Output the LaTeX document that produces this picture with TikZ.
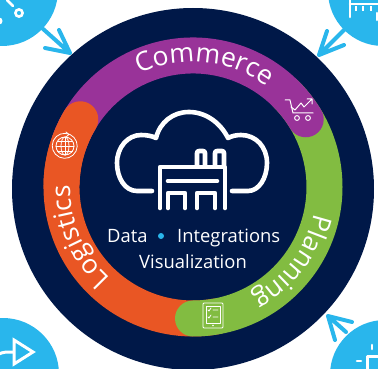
\documentclass[tikz,border=0pt]{standalone}
\usepackage{fontspec}
\usetikzlibrary{decorations.text}
\setmainfont{Open Sans}
\definecolor{navy}{HTML}{001848}
\definecolor{ringpurple}{HTML}{993399}
\definecolor{ringgreen}{HTML}{82BC41}
\definecolor{ringorange}{HTML}{E95624}
\definecolor{skyc}{HTML}{29B6EC}
\newcommand\ringtxt{\fontsize{26.5}{26.5}\selectfont\color{white}}
\tikzset{
  band/.style={line width=36pt,line cap=round},
  corner/.style={fill=skyc},
  pointer/.style={draw=skyc,line width=4pt,line cap=round,line join=round},
  heavy/.style={draw=white,line width=4.6pt,line cap=round,line join=round},
  mark2/.style={draw=white,line width=2.6pt,line cap=round,line join=round},
  fine/.style={draw=white,line width=0.8pt,line cap=round,line join=round},
  centre/.style={text=white,font=\fontsize{18.4}{18.4}\selectfont,inner sep=0pt},
}
\begin{document}
\begin{tikzpicture}[x=1pt,y=-1pt]
\useasboundingbox (0,0) rectangle (378,369);
\fill[white] (0,0) rectangle (378,369);
% corner discs
\fill[corner] (2,-10) circle[radius=56pt];
\fill[corner] (383,-9) circle[radius=55pt];
\fill[corner] (3,374) circle[radius=56pt];
\fill[corner] (385,375) circle[radius=55pt];
% pointers
\coordinate (tla) at (42,28); \coordinate (tlb) at (70,53);
\draw[pointer] (tla) -- (tlb) (59,30) -- (tlb) -- (45,48);
\coordinate (tra) at (346,28); \coordinate (trb) at (319,55);
\draw[pointer] (tra) -- (trb) (327,31) -- (trb) -- (344,45);
\coordinate (bra) at (346,332); \coordinate (brb) at (328,316);
\draw[pointer] (bra) -- (brb) (352,322) -- (brb) -- (335,340);
% main disc
\fill[navy] (193,189) circle[radius=181pt];
% ring
\coordinate (c) at (193,187);
\draw[band,ringorange] (c) ++(149:131.5pt) arc[start angle=149,end angle=280,radius=131.5pt];
\draw[band,ringgreen] (c) ++(270:131.5pt) arc[start angle=270,end angle=405,radius=131.5pt];
\draw[band,ringpurple] (c) ++(160:131.5pt) arc[start angle=160,end angle=31,radius=131.5pt];
\draw[band,ringorange] (c) ++(149:131.5pt) arc[start angle=149,end angle=178,radius=131.5pt];
% curved labels
\path[decorate,decoration={text along path,text align=center,text={|\ringtxt|Commerce}}]
  (c) ++(130:125pt) arc[start angle=130,end angle=39,radius=125pt];
\path[decorate,decoration={text along path,text align=center,text={|\ringtxt|Logistics}}]
  (c) ++(250:123pt) arc[start angle=250,end angle=157,radius=123pt];
\path[decorate,decoration={text along path,text align=center,text={|\ringtxt|Planning}}]
  (c) ++(13:124pt) arc[start angle=13,end angle=-87,radius=124pt];
% cloud
\draw[heavy] (152,191) -- (137,191) .. controls (125,191) and (117,178) .. (117,163)
  .. controls (117,147) and (128,135) .. (141,135)
  .. controls (147,135) and (152,136) .. (156,138)
  .. controls (160,122) and (173,112) .. (189,112)
  .. controls (205,112) and (220,122) .. (228,138)
  .. controls (232,136) and (236,135) .. (241,135)
  .. controls (256,135) and (267,147) .. (267,163)
  .. controls (267,178) and (259,191) .. (248,191) -- (232,191);
% building
\draw[heavy] (160,208) -- (160,167) -- (225,167) -- (225,208);
\draw[heavy] (168,181) -- (217,181);
\draw[heavy] (168,208) -- (168,193) -- (185,193) -- (185,208);
\draw[heavy] (197,208) -- (197,193) -- (215,193) -- (215,208);
\draw[heavy,rounded corners=2pt] (197,165) -- (197,151) -- (205,151) -- (205,165);
\draw[heavy,rounded corners=2pt] (215,165) -- (215,151) -- (224,151) -- (224,165);
% centre text
\node[centre,anchor=base west] (data) at (107,242) {Data};
\node[centre,anchor=base west] (integ) at (177,242) {Integrations};
\node[centre,anchor=base] (vis) at (193,268) {Visualization};
\fill[skyc] (161,236) circle[radius=3pt];
% globe icon
\draw[fine] (70,134.5) arc[start angle=65,end angle=-295,radius=12.5pt];
\draw[fine] (65,146) circle[radius=9pt];
\draw[fine] (65,146) ellipse[x radius=4pt,y radius=9pt];
\draw[fine] (65,137) -- (65,155) (56,146) -- (74,146) (57.5,141) -- (72.5,141) (57.5,151) -- (72.5,151);
\draw[fine] (66,132) -- (69,134.5) -- (66,137);
% cart icon
\draw[fine,line width=1pt] (285,100) -- (290,100) -- (293,113) -- (313,113);
\draw[fine,line width=1pt] (291,107) -- (295,110) -- (301,103) -- (304,107) -- (312,99) (307,99) -- (312,99) -- (312,104);
\draw[fine,line width=1pt] (297,118) circle[radius=2.4pt] (308,118) circle[radius=2.4pt];
% tablet icon
\draw[fine,rounded corners=1pt] (203,303) rectangle (223,328);
\draw[fine] (206,306) rectangle (220,323);
\fill[white] (213,325.5) circle[radius=0.8pt];
\draw[fine] (208,310) -- (209,311) -- (211,308) (213,310) -- (218,310);
\draw[fine] (208,317) -- (209,318) -- (211,315) (213,317) -- (218,317);
% corner icons
\draw[mark2] (7,0) -- (13,6);
\draw[mark2] (19,13) circle[radius=3.6pt];
\draw[mark2] (-1,21) circle[radius=2.2pt];
\draw[mark2] (350,-2) -- (350,17);
\draw[mark2] (350,4) -- (380,4);
\draw[mark2] (377,13) -- (377,20);
\fill[white] (354.6,6.5) rectangle (357.4,11.5);
\fill[white] (361.6,6.5) rectangle (364.4,11.5);
\fill[white] (369.6,6.5) rectangle (372.4,11.5);
\draw[mark2,line cap=butt,line width=3pt,line join=miter] (14,340) -- (33,352) -- (14,364) -- cycle;
\draw[mark2,line cap=butt,line width=3pt] (-1,354) .. controls (3,352) and (6,352) .. (14,352);
\draw[mark2] (372,345) -- (372,349);
\draw[mark2] (357,361) -- (361,361);
\draw[mark2,line width=3pt] (380,356) -- (367,356) -- (367,371);
\end{tikzpicture}
\end{document}
